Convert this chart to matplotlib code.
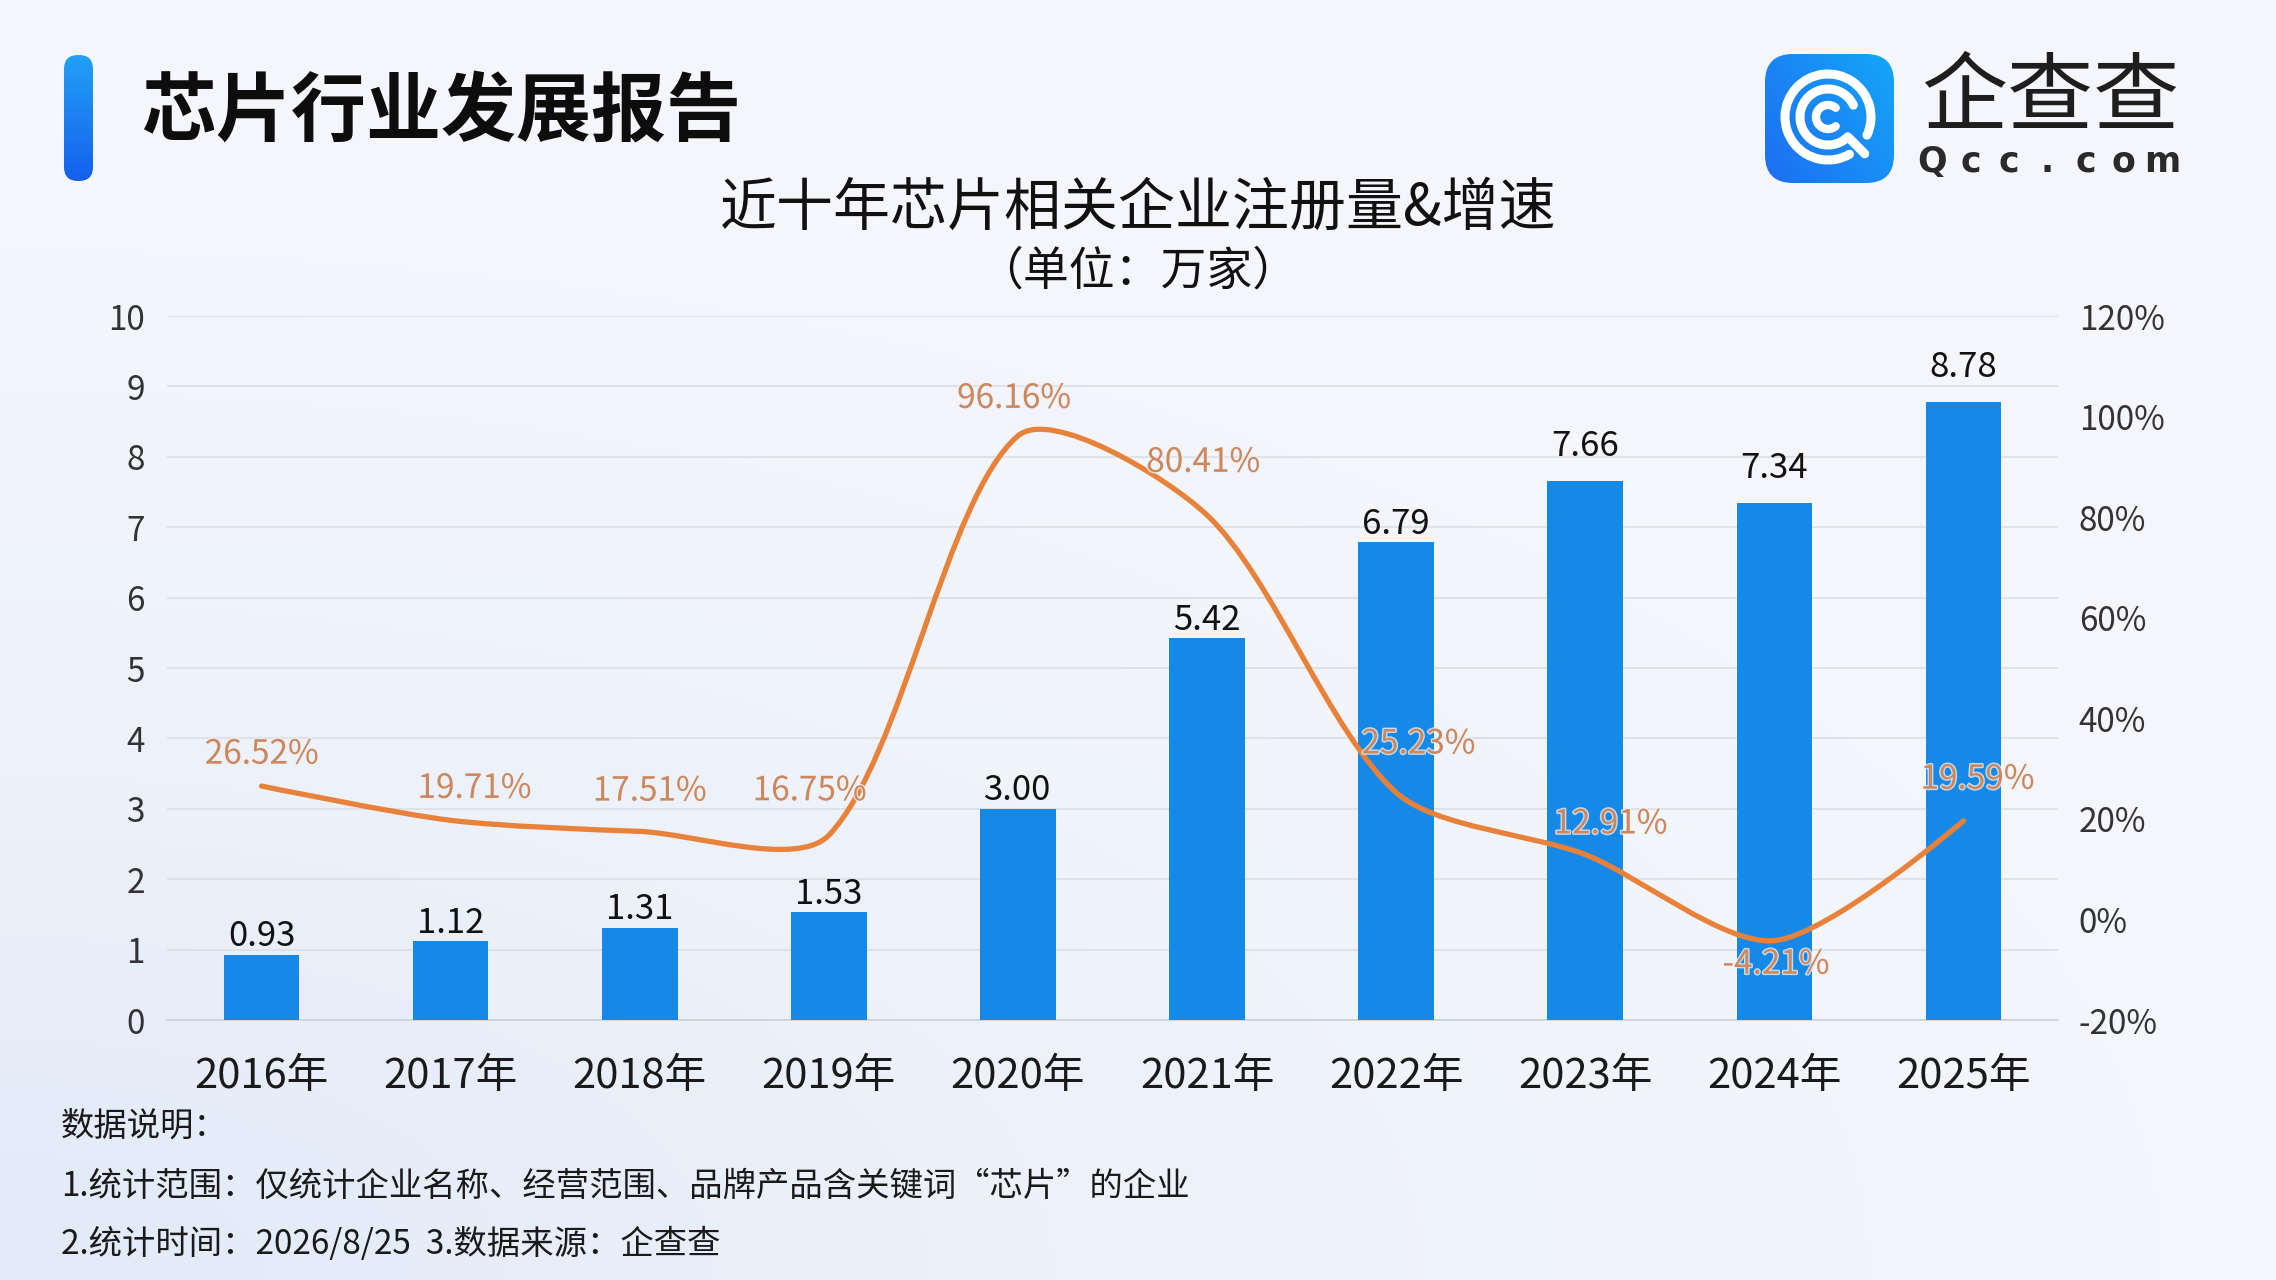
import numpy as np
import matplotlib
matplotlib.use("Agg")
import matplotlib.pyplot as plt
import matplotlib.patheffects as pe
from matplotlib.path import Path
from matplotlib.patches import PathPatch, FancyBboxPatch, Arc
from matplotlib.colors import LinearSegmentedColormap

plt.rcParams['font.family'] = ['Noto Sans CJK SC', 'DejaVu Sans']

# data
years = ['2016年', '2017年', '2018年', '2019年', '2020年',
         '2021年', '2022年', '2023年', '2024年', '2025年']
counts = [0.93, 1.12, 1.31, 1.53, 3.00, 5.42, 6.79, 7.66, 7.34, 8.78]
growth = [26.52, 19.71, 17.51, 16.75, 96.16, 80.41, 25.23, 12.91, -4.21, 19.59]
left_ticks = [0, 1, 2, 3, 4, 5, 6, 7, 8, 9, 10]
right_ticks = [-20, 0, 20, 40, 60, 80, 100, 120]

title = '芯片行业发展报告'
chart_title = '近十年芯片相关企业注册量&增速'
unit_text = '（单位：万家）'
notes = ['数据说明：',
         '1.统计范围：仅统计企业名称、经营范围、品牌产品含关键词“芯片”的企业',
         '2.统计时间：2026/8/25  3.数据来源：企查查']

W, H = 2276, 1280
fig = plt.figure(figsize=(W / 100, H / 100), dpi=100)


def px_axes(x0, y0, w, h, zorder=1):
    a = fig.add_axes([x0 / W, 1 - (y0 + h) / H, w / W, h / H], zorder=zorder)
    a.set_xlim(0, w)
    a.set_ylim(0, h)
    a.axis('off')
    return a


# background gradient
bg = fig.add_axes([0, 0, 1, 1], zorder=-10)
bg.axis('off')
yy, xx = np.mgrid[0:1:160j, 0:1:285j]
w = np.clip(1 - np.hypot(xx * 1.1, (1 - yy) * 1.3) / 1.25, 0, 1) ** 1.5
light = np.array([0.960, 0.968, 0.985])
blue = np.array([0.885, 0.918, 0.975])
img = light[None, None, :] * (1 - w[..., None]) + blue[None, None, :] * w[..., None]
bg.imshow(img, extent=[0, 1, 0, 1], aspect='auto', interpolation='bicubic')
bg.set_xlim(0, 1)
bg.set_ylim(0, 1)

# accent bar left of the title
acc = px_axes(64, 55, 29, 126)
grad = np.linspace(0, 1, 256)[:, None]
im = acc.imshow(grad, extent=[0, 29, 0, 126], aspect='auto', origin='upper',
                cmap=LinearSegmentedColormap.from_list('acc', ['#22A0F6', '#1460EC']))
box = FancyBboxPatch((0, 0), 29, 126, boxstyle='round,pad=0,rounding_size=14',
                     facecolor='none', edgecolor='none')
acc.add_patch(box)
im.set_clip_path(box)

fig.text(141 / W, 1 - 112 / H, title, fontsize=54, fontweight='bold',
         color='#0D0D0D', ha='left', va='center')

# logo icon
ic = px_axes(1765, 54, 129, 129, zorder=2)
gx, gy = np.meshgrid(np.linspace(0, 1, 200), np.linspace(0, 1, 200))
im2 = ic.imshow(gx * 0.6 + (1 - gy) * 0.4, extent=[0, 129, 0, 129], aspect='auto',
                origin='upper',
                cmap=LinearSegmentedColormap.from_list('ic', ['#1D6EF2', '#15A6F8']))
ibox = FancyBboxPatch((0, 0), 129, 129, boxstyle='round,pad=0,rounding_size=28',
                      facecolor='none', edgecolor='none')
ic.add_patch(ibox)
im2.set_clip_path(ibox)
cx, cy = 63, 66
ic.add_patch(Arc((cx, cy), 86, 86, theta1=-25, theta2=300, color='white', lw=6.5,
                 capstyle='round'))
ic.add_patch(Arc((cx, cy), 56, 56, theta1=25, theta2=315, color='white', lw=6.5,
                 capstyle='round'))
ic.add_patch(Arc((cx, cy), 24, 24, theta1=50, theta2=310, color='white', lw=6,
                 capstyle='round'))
ang = np.deg2rad(-45)
ic.plot([cx + 30 * np.cos(ang), cx + 52 * np.cos(ang)],
        [cy + 30 * np.sin(ang), cy + 52 * np.sin(ang)],
        color='white', lw=6.5, solid_capstyle='round')

fig.text(2050 / W, 1 - 100 / H, '企查查', fontsize=62, color='#1E1E1E',
         ha='center', va='center')
for ch, xp in zip('Qcc.com', np.linspace(1932, 2162, 7)):
    fig.text(xp / W, 1 - 162 / H, ch, fontsize=25, fontweight='bold', color='#2A2A2A',
             ha='center', va='center', family='DejaVu Sans')

fig.text(1138 / W, 1 - 208 / H, chart_title, fontsize=41, color='#111111',
         ha='center', va='center')
fig.text(1138 / W, 1 - 271 / H, unit_text, fontsize=33, color='#111111',
         ha='center', va='center')

# main chart
ax = fig.add_axes([167 / W, 1 - 1020 / H, (2058 - 167) / W, (1020 - 316) / H])
ax.set_facecolor('none')
x = np.arange(len(years))
ax.bar(x, counts, width=0.4, color='#1689E6', zorder=3)
ax.set_xlim(-0.5, len(years) - 0.5)
ax.set_ylim(0, 10)
ax.set_yticks(left_ticks)
ax.set_xticks(x)
ax.set_xticklabels(years)
ax.grid(axis='y', color='#D9DDE3', lw=1.1, zorder=0)
for sp in ['top', 'left', 'right']:
    ax.spines[sp].set_visible(False)
ax.spines['bottom'].set_color('#CCD1D8')
ax.spines['bottom'].set_linewidth(1.2)
ax.tick_params(axis='y', length=0, pad=16, labelsize=24, labelcolor='#333333')
ax.tick_params(axis='x', length=0, pad=26, labelsize=30, labelcolor='#1A1A1A')

bar_pads = [6, 6, 6, 6, 6, 6, 6, 18, 18, 18]
for xi, v, p in zip(x, counts, bar_pads):
    ax.annotate(f'{v:.2f}', (xi, v), xytext=(0, p), textcoords='offset points',
                ha='center', va='baseline', fontsize=25, color='#111111', zorder=5)

ax2 = ax.twinx()
ax2.set_ylim(-20, 120)
ax2.set_yticks(right_ticks)
ax2.set_yticklabels([f'{t}%' for t in right_ticks])
ax2.tick_params(axis='y', length=0, pad=15, labelsize=24, labelcolor='#333333')
for sp in ax2.spines.values():
    sp.set_visible(False)


def smooth_path(a, xs, ys, s=0.28):
    pts = a.transData.transform(np.column_stack([xs, ys]))
    n = len(pts)
    cin = list(pts)
    cout = list(pts)
    for i in range(1, n - 1):
        v = (pts[i + 1] - pts[i - 1]) * s
        d0 = np.hypot(*(pts[i] - pts[i - 1]))
        d1 = np.hypot(*(pts[i + 1] - pts[i]))
        cin[i] = pts[i] - v * d0 / (d0 + d1)
        cout[i] = pts[i] + v * d1 / (d0 + d1)
    verts = [pts[0]]
    codes = [Path.MOVETO]
    for i in range(n - 1):
        verts += [cout[i], cin[i + 1], pts[i + 1]]
        codes += [Path.CURVE4] * 3
    verts = a.transData.inverted().transform(np.array(verts))
    return Path(verts, codes)


ax2.add_patch(PathPatch(smooth_path(ax2, x, growth), fill=False,
                        edgecolor='#E8823A', lw=3.8, zorder=4, capstyle='round'))

lbl_off = [(0, 23), (17, 23), (7, 29), (-14, 32), (-3, 27),
           (-3, 38), (16, 35), (18, 22), (1, -17), (10, 30)]
for xi, g, off in zip(x, growth, lbl_off):
    ax2.annotate(f'{g:.2f}%', (xi, g), xytext=off, textcoords='offset points',
                 ha='center', va='center', fontsize=24, color='#CC875C', zorder=6,
                 path_effects=[pe.withStroke(linewidth=2, foreground='#EEF1F7', alpha=0.8)])

# notes
for t, yp in zip(notes, [1126, 1186, 1245]):
    fig.text(61 / W, 1 - yp / H, t, fontsize=24, color='#1A1A1A', ha='left', va='center')

fig.savefig('out.png', dpi=100)
